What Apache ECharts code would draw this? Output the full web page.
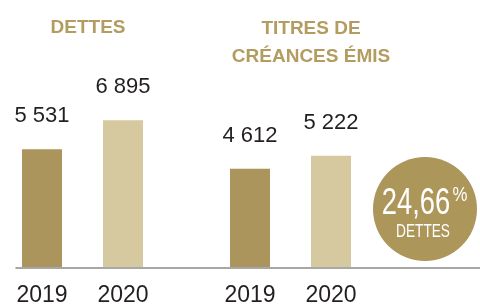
<!DOCTYPE html>
<html><head><meta charset="utf-8">
<script src="https://cdn.jsdelivr.net/npm/echarts@6/dist/echarts.min.js"></script>
<style>html,body{margin:0;padding:0;background:#fff}#c{width:480px;height:307px}</style>
</head><body><div id="c"></div>
<script>
const years = ['2019', '2020'];
const dettes = [5531, 6895];
const titres = [4612, 5222];
const groupTitles = ['DETTES', 'TITRES DE\nCRÉANCES ÉMIS'];
const ratioText = '24,66';
const ratioUnit = '%';
const ratioLabel = 'DETTES';

const DARK = '#ab955c', LIGHT = '#d6c89f', GOLD = '#b39c5f', INK = '#231f20';
const fmt = v => String(v).replace(/\B(?=(\d{3})+(?!\d))/g, ' ');
const numFont = "'Liberation Sans', Arial, sans-serif";

function barSeries(vals, idx) {
  return {
    type: 'bar', xAxisIndex: idx, yAxisIndex: idx, barWidth: 40,
    data: vals.map((v, i) => ({ value: v, itemStyle: { color: i === 0 ? DARK : LIGHT } })),
    label: { show: true, position: 'top', distance: 22, color: INK, fontSize: 22,
      fontFamily: numFont, formatter: p => fmt(p.value) },
    silent: true
  };
}
const catAxis = i => ({
  type: 'category', gridIndex: i, data: years,
  axisLine: { show: false }, axisTick: { show: false },
  axisLabel: { color: INK, fontSize: 23, fontFamily: numFont, margin: 17 }
});
const valAxis = i => ({ type: 'value', gridIndex: i, min: 0, max: 10000, show: false });

const chart = echarts.init(document.getElementById('c'), null, { renderer: 'canvas' });
chart.setOption({
  animation: false,
  title: [
    { text: groupTitles[0], left: 83, top: 13, textAlign: 'center',
      textStyle: { color: GOLD, fontSize: 19, fontWeight: 900, fontFamily: numFont } },
    { text: groupTitles[1], left: 306, top: 10, textAlign: 'center',
      textStyle: { color: GOLD, fontSize: 19, fontWeight: 900, fontFamily: numFont, lineHeight: 28 } }
  ],
  grid: [
    { left: 1.5, width: 162, top: 54, height: 214 },
    { left: 209.5, width: 162, top: 54, height: 214 },
    { left: 16, right: 0, top: 54, height: 214 }
  ],
  xAxis: [catAxis(0), catAxis(1),
    { type: 'value', gridIndex: 2, min: 0, max: 1, axisLine: { show: true, lineStyle: { color: '#8a8a8a', width: 1.5 } },
      axisTick: { show: false }, axisLabel: { show: false }, splitLine: { show: false } }],
  yAxis: [valAxis(0), valAxis(1), valAxis(2)],
  series: [barSeries(dettes, 0), barSeries(titres, 1)],
  graphic: [
    { type: 'circle', shape: { cx: 425, cy: 209, r: 52 }, style: { fill: '#ad965a' }, silent: true },
    { type: 'text', x: 416, y: 204, scaleX: 0.76, style: { text: ratioText, fill: '#fff', fontSize: 36,
        fontFamily: numFont, align: 'center', verticalAlign: 'middle' } },
    { type: 'text', x: 460, y: 195, scaleX: 0.8, style: { text: ratioUnit, fill: '#fff', fontSize: 21,
        fontFamily: numFont, align: 'center', verticalAlign: 'middle' } },
    { type: 'text', x: 423, y: 232, scaleX: 0.76, style: { text: ratioLabel, fill: '#fff', fontSize: 18,
        fontFamily: numFont, align: 'center', verticalAlign: 'middle' } }
  ]
});
</script></body></html>
